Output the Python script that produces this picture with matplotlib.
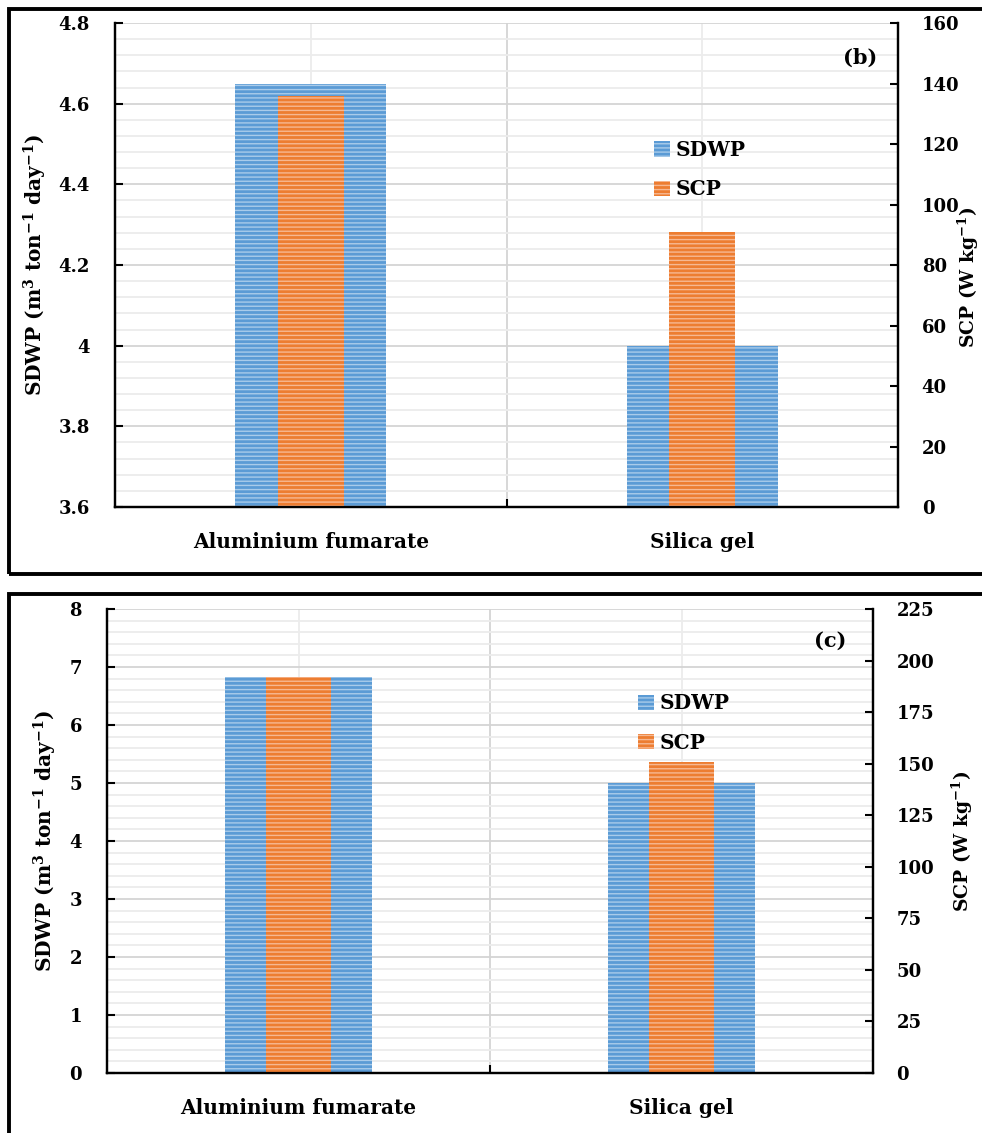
import numpy as np
import matplotlib
matplotlib.use("Agg")
import matplotlib.pyplot as plt
from matplotlib.patches import Patch, Rectangle
from matplotlib.ticker import MultipleLocator, FixedLocator, FormatStrFormatter

## DATA
categories = ["Aluminium fumarate", "Silica gel"]
sdwp_b = [4.65, 4.0]      # m3 ton-1 day-1, panel (b)
scp_b = [136, 91]         # W kg-1, panel (b)
sdwp_c = [6.83, 5.0]      # panel (c)
scp_c = [192, 151]        # panel (c)

## STYLE
plt.rcParams["font.family"] = ["DejaVu Serif"]
plt.rcParams["font.weight"] = "bold"
plt.rcParams["mathtext.fontset"] = "custom"
plt.rcParams["mathtext.rm"] = "DejaVu Serif:bold"
plt.rcParams["mathtext.it"] = "DejaVu Serif:bold"
plt.rcParams["mathtext.bf"] = "DejaVu Serif:bold"
plt.rcParams["mathtext.default"] = "regular"
plt.rcParams["hatch.linewidth"] = 1.0

blue, blue_h = "#5B9BD5", "#A9CBEA"
orange, orange_h = "#ED7D31", "#F6B892"


def panel(rect, sdwp, scp, ylim, ymaj, ymin, y2lim, y2maj, tag, leg_xy, tag_xy, lab_x, lab2_y):
    ax = fig.add_axes(rect)
    ax2 = ax.twinx()
    x = np.arange(len(categories))
    ax.bar(x, sdwp, width=0.386, color=blue, edgecolor=blue_h, lw=0, hatch="----", zorder=2)
    ax2.bar(x, scp, width=0.168, color=orange, edgecolor=orange_h, lw=0, hatch="----", zorder=2)

    ax.set_xlim(-0.5, 1.5)
    ax.set_ylim(*ylim)
    ax2.set_ylim(*y2lim)
    ax.yaxis.set_major_locator(MultipleLocator(ymaj))
    ax.yaxis.set_minor_locator(MultipleLocator(ymin))
    ax2.yaxis.set_major_locator(MultipleLocator(y2maj))
    ax.set_xticks(x)
    ax.set_xticklabels(categories, fontsize=14.5, fontweight="bold")
    ax.xaxis.set_minor_locator(FixedLocator([0.5]))

    ax.set_axisbelow(True)
    ax.grid(which="major", axis="y", color="#d4d4d4", lw=1.3)
    ax.grid(which="minor", axis="y", color="#ececec", lw=1.3)
    ax.grid(which="major", axis="x", color="#ececec", lw=1.3)
    ax.grid(which="minor", axis="x", color="#d4d4d4", lw=1.3)

    ax.tick_params(axis="y", which="major", direction="in", length=6, width=1.5, pad=18, labelsize=13)
    ax.tick_params(axis="y", which="minor", length=0)
    ax.tick_params(axis="x", which="major", length=0, pad=18)
    ax.tick_params(axis="x", which="minor", direction="in", length=6, width=1.5)
    ax2.tick_params(axis="y", direction="in", length=6, width=1.5, pad=17, labelsize=13)

    for a in (ax, ax2):
        a.spines["top"].set_visible(False)
        for s in ("left", "right", "bottom"):
            a.spines[s].set_linewidth(1.6)
        a.yaxis.set_major_formatter(FormatStrFormatter("%g"))

    ax.set_ylabel(r"SDWP (m$^{3}$ ton$^{-1}$ day$^{-1}$)", fontsize=14.5, fontweight="bold", va="center")
    ax2.set_ylabel(r"SCP (W kg$^{-1}$)", fontsize=13.5, fontweight="bold", va="center")
    ax.yaxis.set_label_coords(lab_x[0], 0.5)
    ax2.yaxis.set_label_coords(lab_x[1], lab2_y)

    ax2.text(tag_xy[0], tag_xy[1], tag, transform=ax2.transAxes, fontsize=15,
             fontweight="bold", ha="center", va="center")
    handles = [Patch(facecolor=blue, edgecolor=blue_h, lw=0, hatch="----"),
               Patch(facecolor=orange, edgecolor=orange_h, lw=0, hatch="----")]
    ax2.legend(handles, ["SDWP", "SCP"], loc="upper left", bbox_to_anchor=leg_xy,
               frameon=False, fontsize=14.5, handlelength=0.8, handleheight=0.8,
               handletextpad=0.3, labelspacing=0.95, borderpad=0, borderaxespad=0)
    return ax, ax2


fig = plt.figure(figsize=(9.82, 11.33), dpi=100)

panel([0.1171, 0.5525, 0.7974, 0.4272], sdwp_b, scp_b, (3.6, 4.8), 0.2, 0.04,
      (0, 160), 20, "(b)", (0.688, 0.758), (0.951, 0.928), (-0.102, 1.090), 0.475)
panel([0.1090, 0.0530, 0.7800, 0.4095], sdwp_c, scp_c, (0, 8), 1, 0.2,
      (0, 225), 25, "(c)", (0.693, 0.818), (0.944, 0.931), (-0.081, 1.117), 0.5)

# black frames around each panel
W, H = 982.0, 1133.0
fig.add_artist(Rectangle((9 / W, 1 - 574 / H), 1.05, (574 - 9) / H, transform=fig.transFigure,
                         fill=False, ec="black", lw=2.8))
fig.add_artist(Rectangle((9 / W, -0.05), 1.05, 0.05 + 1 - 594 / H, transform=fig.transFigure,
                         fill=False, ec="black", lw=2.8))

plt.savefig("out.png", dpi=100)
